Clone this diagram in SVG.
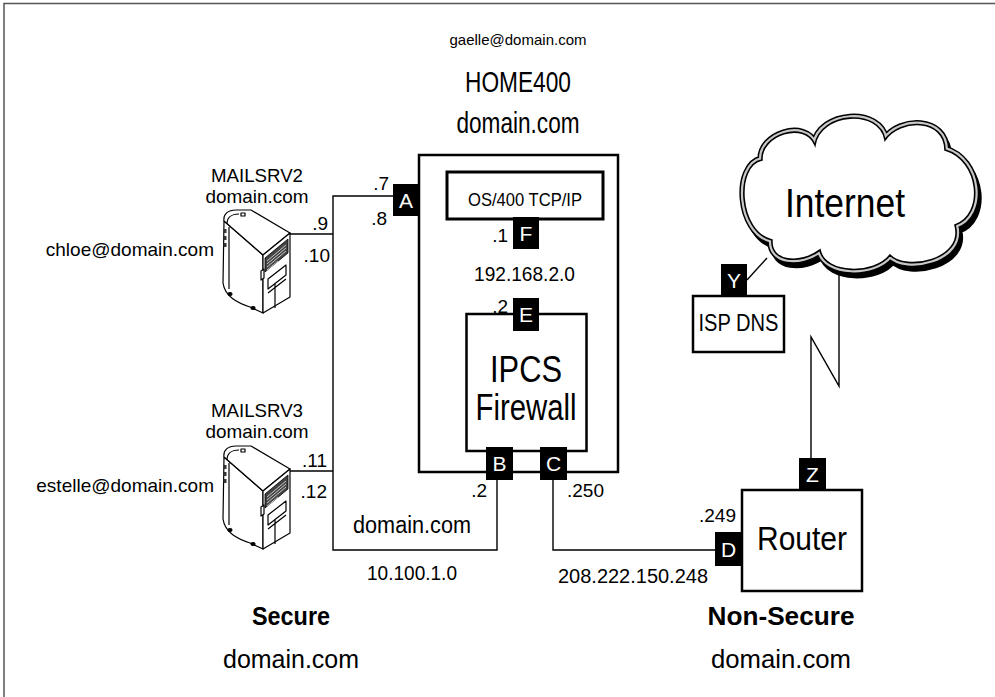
<svg xmlns="http://www.w3.org/2000/svg" width="995" height="697" viewBox="0 0 995 697">
<style>
text{font-family:"Liberation Sans",Arial,Helvetica,sans-serif;fill:#000}
.lbl{font-size:19px}
.mid{text-anchor:middle}
.end{text-anchor:end}
.tag rect{fill:#000}
.tag text{fill:#fff;font-size:21px;text-anchor:middle}
.box{fill:#fff;stroke:#000;stroke-width:2.5}
.wire{fill:none;stroke:#000;stroke-width:1.4}
.bold{font-weight:bold}
</style>
<defs>
  <!-- AS/400 tower, drawn in a 70x104 local frame -->
  <g id="tower" stroke="#000" stroke-width="1.2" stroke-linejoin="round">
    <path fill="#fff" d="M2,12 L41,46 L41,104 L28,98 C16,94 3,88 1,74 Z"/>
    <path fill="#fff" d="M2,12 C1,5 6,1 14,1 L29,1 L68,24 L41,46 Z"/>
    <path fill="#fff" d="M41,46 L68,24 L68,88 L41,104 Z"/>
    <path fill="none" d="M5,15 C5,9 9,5 17,5"/>
    <rect x="19" y="4" width="4" height="3" fill="#fff"/>
    <path fill="none" d="M7,18 V80"/>
    <rect x="1.5" y="20" width="3" height="4" fill="#333" stroke="none"/>
    <rect x="1.5" y="27" width="3" height="4" fill="#333" stroke="none"/>
    <rect x="1.5" y="34" width="3" height="4" fill="#333" stroke="none"/>
    <path fill="#444" stroke-width="0.8" d="M43,49 L66,30 L66,44 L43,63 Z"/>
    <path fill="none" stroke="#fff" stroke-width="0.7" d="M45,52 L64,36 M45,55 L64,39 M45,58 L64,42 M45,61 L56,52"/>
    <path fill="#fff" d="M39,62 l3,-2 v9 l-3,2 z"/>
    <path fill="#fff" d="M46,70 L64,56 L64,66 L46,80 Z"/>
    <path fill="none" d="M53,75 V99 M46,84 L64,70"/>
    <ellipse cx="8" cy="85" rx="2" ry="1.5" fill="#000"/>
    <ellipse cx="31" cy="99" rx="2" ry="1.5" fill="#000"/>
  </g>
  <!-- cloud outline, styled by each <use> -->
  <path id="cloud" d="M762,160 C760,135 805,120 815,145 C820,112 880,108 885,140 C900,118 945,118 945,150 C980,160 985,215 955,225 C965,260 905,272 890,255 C875,275 825,275 820,250 C800,265 770,262 772,240 C738,232 735,165 762,160 Z"/>
</defs>

<!-- page frame -->
<path d="M4,697 V3.5 H995" fill="none" stroke="#555" stroke-width="1.5"/>

<!-- connectors -->
<g id="connectors" class="wire">
  <path d="M393,196 H333 V550 H497 V480"/>
  <path d="M290,234 H333"/>
  <path d="M290,471 H333"/>
  <path d="M526,249 V258 M526,285 V298"/>
  <path d="M553,480 V550 H715"/>
  <path d="M747,280 L767,258"/>
  <path d="M839,266 V386 L811,337 V458"/>
</g>

<!-- HOME400 system -->
<g id="home400">
  <text class="mid" x="518" y="45" font-size="15" textLength="137" lengthAdjust="spacingAndGlyphs">gaelle@domain.com</text>
  <text class="mid" x="518" y="92" font-size="30" textLength="106" lengthAdjust="spacingAndGlyphs">HOME400</text>
  <text class="mid" x="518" y="133" font-size="30" textLength="123" lengthAdjust="spacingAndGlyphs">domain.com</text>
  <rect class="box" x="419" y="155" width="199" height="317"/>
</g>

<g id="os400">
  <rect x="447" y="172" width="156" height="47" fill="#fff" stroke="#000" stroke-width="3"/>
  <text class="mid" x="525" y="206" font-size="19" textLength="114" lengthAdjust="spacingAndGlyphs">OS/400 TCP/IP</text>
</g>

<g id="ipcs">
  <rect class="box" x="466.5" y="314" width="120" height="137"/>
  <text class="mid" x="526" y="382" font-size="36" textLength="72" lengthAdjust="spacingAndGlyphs">IPCS</text>
  <text class="mid" x="526" y="420" font-size="36" textLength="101" lengthAdjust="spacingAndGlyphs">Firewall</text>
</g>

<g id="net-internal">
  <text class="mid" x="524.5" y="281" font-size="21" textLength="101" lengthAdjust="spacingAndGlyphs">192.168.2.0</text>
  <text class="lbl end" x="508" y="242">.1</text>
  <text class="lbl end" x="508" y="313">.2</text>
</g>

<!-- interface tags -->
<g id="tag-a" class="tag"><rect x="393" y="184" width="26" height="32"/><text x="406" y="207.5">A</text></g>
<g id="tag-f" class="tag"><rect x="513" y="217" width="26" height="32"/><text x="526" y="240.5">F</text></g>
<g id="tag-e" class="tag"><rect x="513" y="298" width="26" height="33"/><text x="526" y="322">E</text></g>
<g id="tag-b" class="tag"><rect x="486" y="447" width="27" height="33"/><text x="499.5" y="471">B</text></g>
<g id="tag-c" class="tag"><rect x="540" y="447" width="27" height="33"/><text x="553.5" y="471">C</text></g>
<g id="tag-d" class="tag"><rect x="715" y="532" width="27" height="34"/><text x="728.5" y="556.5">D</text></g>
<g id="tag-z" class="tag"><rect x="799" y="458" width="27" height="33"/><text x="812.5" y="482">Z</text></g>
<g id="tag-y" class="tag"><rect x="721" y="264" width="26" height="32"/><text x="734" y="287.5">Y</text></g>

<!-- secure network -->
<g id="net-secure">
  <text class="lbl end" x="389" y="190">.7</text>
  <text class="lbl end" x="387" y="225">.8</text>
  <text class="lbl end" x="487" y="497">.2</text>
  <text class="mid" x="412" y="533" font-size="23" textLength="118" lengthAdjust="spacingAndGlyphs">domain.com</text>
  <text class="mid" x="412" y="580" font-size="21" textLength="90" lengthAdjust="spacingAndGlyphs">10.100.1.0</text>
  <text class="mid bold" x="291" y="625" font-size="25" textLength="78" lengthAdjust="spacingAndGlyphs">Secure</text>
  <text class="mid" x="291" y="668" font-size="25" textLength="136" lengthAdjust="spacingAndGlyphs">domain.com</text>
</g>

<g id="mailsrv2">
  <text class="lbl mid" x="257" y="182" textLength="92" lengthAdjust="spacingAndGlyphs">MAILSRV2</text>
  <text class="lbl mid" x="257" y="203" textLength="103" lengthAdjust="spacingAndGlyphs">domain.com</text>
  <text class="lbl end" x="214" y="256">chloe@domain.com</text>
  <use href="#tower" x="222" y="209"/>
  <text class="lbl end" x="328" y="230">.9</text>
  <text class="lbl end" x="330" y="262">.10</text>
</g>

<g id="mailsrv3">
  <text class="lbl mid" x="257" y="417" textLength="92" lengthAdjust="spacingAndGlyphs">MAILSRV3</text>
  <text class="lbl mid" x="257" y="438" textLength="103" lengthAdjust="spacingAndGlyphs">domain.com</text>
  <text class="lbl end" x="214" y="492">estelle@domain.com</text>
  <use href="#tower" x="222" y="445"/>
  <text class="lbl end" x="327" y="467">.11</text>
  <text class="lbl end" x="327" y="498">.12</text>
</g>

<!-- non-secure side -->
<g id="net-public">
  <text class="lbl" x="567" y="497">.250</text>
  <text class="lbl end" x="736" y="522">.249</text>
  <text class="end" x="708" y="583" font-size="20" textLength="150" lengthAdjust="spacingAndGlyphs">208.222.150.248</text>
  <text class="mid bold" x="781" y="625" font-size="25" textLength="147" lengthAdjust="spacingAndGlyphs">Non-Secure</text>
  <text class="mid" x="781" y="668" font-size="25" textLength="140" lengthAdjust="spacingAndGlyphs">domain.com</text>
</g>

<g id="router">
  <rect class="box" x="742" y="490" width="120" height="101"/>
  <text class="mid" x="802" y="550" font-size="34" textLength="90" lengthAdjust="spacingAndGlyphs">Router</text>
</g>

<g id="isp-dns">
  <rect class="box" x="693" y="296" width="91" height="56"/>
  <text class="mid" x="738.5" y="331" font-size="24" textLength="80" lengthAdjust="spacingAndGlyphs">ISP DNS</text>
</g>

<g id="internet">
  <!-- drop shadow, then black / grey / black rim, then white body -->
  <use href="#cloud" transform="translate(3,5)" fill="#000" stroke="#000" stroke-width="8"/>
  <use href="#cloud" fill="none" stroke="#000" stroke-width="9"/>
  <use href="#cloud" fill="none" stroke="#c8c8c8" stroke-width="6"/>
  <use href="#cloud" fill="#fff" stroke="none"/>
  <use href="#cloud" fill="none" stroke="#000" stroke-width="1.6"/>
  <text class="mid" x="845" y="217" font-size="41" textLength="120" lengthAdjust="spacingAndGlyphs">Internet</text>
</g>
</svg>
